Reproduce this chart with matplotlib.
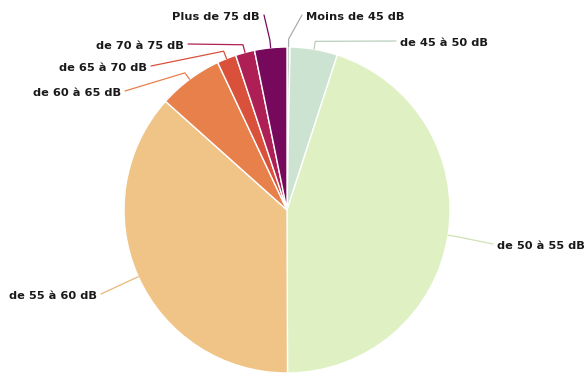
import matplotlib.pyplot as plt
import numpy as np

# données (part en %)
categories = ['Moins de 45 dB', 'de 45 à 50 dB', 'de 50 à 55 dB', 'de 55 à 60 dB',
              'de 60 à 65 dB', 'de 65 à 70 dB', 'de 70 à 75 dB', 'Plus de 75 dB']
values = [0.3, 4.7, 45.0, 36.7, 6.4, 1.9, 1.9, 3.2]
colors = ['#c4cfc6', '#cde3d2', '#dff0c3', '#f0c486', '#e8804c', '#d9513a', '#ae2055', '#76095c']
line_colors = ['#a8b0aa', '#b9cfbe', '#cfe2b4', '#e8b878', '#e8804c', '#d9513a', '#ae2055', '#76095c']

# position des étiquettes (pixels, origine en haut à gauche) et alignement
label_pos = [(306, 17, 'left'), (400, 43, 'left'), (497, 246, 'left'), (97, 296, 'right'),
             (121, 93, 'right'), (147, 68, 'right'), (184, 46, 'right'), (260, 17, 'right')]

W, H = 586, 374
cx, cy, r = 287, H - 210, 163

fig = plt.figure(figsize=(W / 100, H / 100), dpi=100)
ax = fig.add_axes([0, 0, 1, 1])

wedges, _ = ax.pie(values, colors=colors, startangle=90, counterclock=False,
                   center=(cx, cy), radius=r, frame=True,
                   wedgeprops=dict(edgecolor='white', linewidth=1))
ax.set_xlim(0, W)
ax.set_ylim(0, H)
ax.set_aspect('equal')
ax.axis('off')

for w, lab, (lx, ly, ha), lc in zip(wedges, categories, label_pos, line_colors):
    mid = np.deg2rad((w.theta1 + w.theta2) / 2)
    p0 = (cx + r * np.cos(mid), cy + r * np.sin(mid))
    p1 = (cx + (r + 8) * np.cos(mid), cy + (r + 8) * np.sin(mid))
    ty = H - ly
    end_x = lx - 4 if ha == 'left' else lx + 4
    ax.plot([p0[0], p1[0], end_x], [p0[1], p1[1], ty + 2],
            color=lc, linewidth=0.9, solid_capstyle='round')
    ax.text(lx, ty, lab, ha=ha, va='center', fontsize=8.2, fontweight='bold', color='#1a1a1a')

fig.savefig('out.png', dpi=100)
